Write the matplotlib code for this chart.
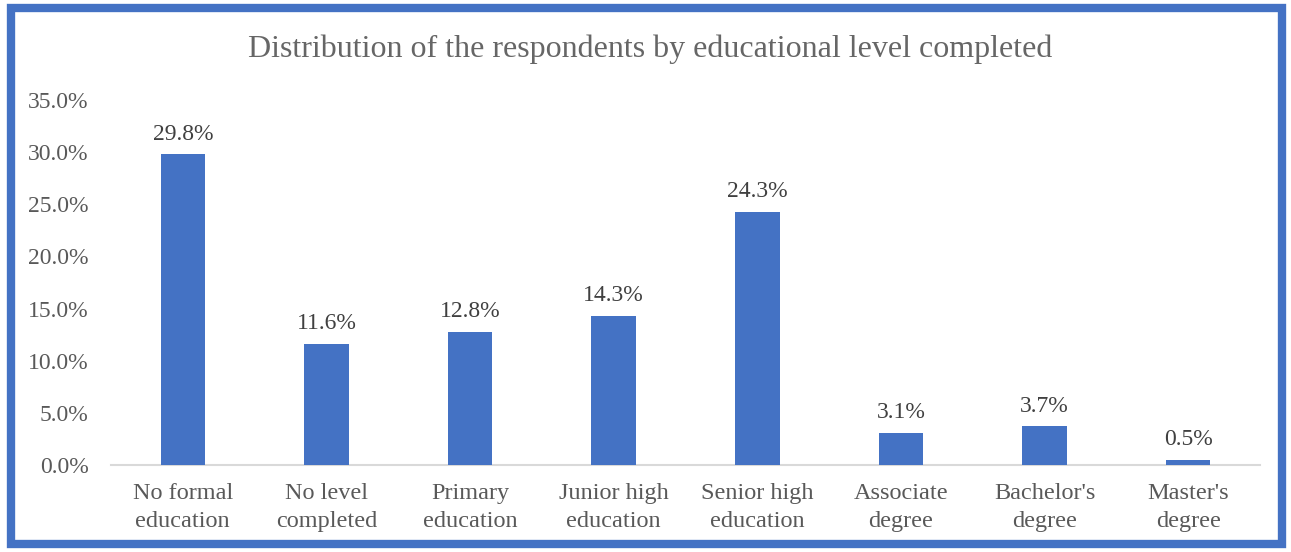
import matplotlib.pyplot as plt
from matplotlib.patches import Rectangle
from matplotlib.ticker import FuncFormatter

categories = ["No formal\neducation", "No level\ncompleted", "Primary\neducation",
              "Junior high\neducation", "Senior high\neducation", "Associate\ndegree",
              "Bachelor's\ndegree", "Master's\ndegree"]
shares = [29.8, 11.6, 12.8, 14.3, 24.3, 3.1, 3.7, 0.5]

blue = "#4472C4"
grey = "#595959"

plt.rcParams["font.family"] = ["Liberation Serif", "DejaVu Serif"]

fig = plt.figure(figsize=(12.91, 5.52), dpi=100)
ax = fig.add_axes([111 / 1291, 87 / 552, 1149 / 1291, 365 / 552])

x = range(len(categories))
bars = ax.bar(x, shares, width=0.31, color=blue, zorder=3)
for b, v in zip(bars, shares):
    ax.annotate(f"{v:.1f}%", (b.get_x() + b.get_width() / 2, v),
                xytext=(0, 7), textcoords="offset points",
                ha="center", va="bottom", fontsize=17, color="#404040")

ax.set_xlim(-0.5, len(categories) - 0.5)
ax.set_ylim(0, 35)
ax.set_yticks(range(0, 36, 5))
ax.yaxis.set_major_formatter(FuncFormatter(lambda v, p: f"{v:.1f}%"))
ax.set_xticks(list(x))
ax.set_xticklabels(categories, fontsize=17.5, color=grey, linespacing=1.45)
ax.tick_params(axis="y", labelsize=17, labelcolor=grey, length=0, pad=16)
ax.tick_params(axis="x", length=0, pad=13)

for s in ["top", "right", "left"]:
    ax.spines[s].set_visible(False)
ax.spines["bottom"].set_color("#D9D9D9")
ax.spines["bottom"].set_linewidth(1.5)

fig.text(650 / 1291, 1 - 49 / 552, "Distribution of the respondents by educational level completed",
         ha="center", va="center", fontsize=23, color="#666666")

# outer frame
fig.patches.append(Rectangle((11 / 1291, 8 / 552), 1271 / 1291, 536 / 552,
                             transform=fig.transFigure, fill=False,
                             edgecolor=blue, linewidth=6))

fig.savefig("out.png", dpi=100)
